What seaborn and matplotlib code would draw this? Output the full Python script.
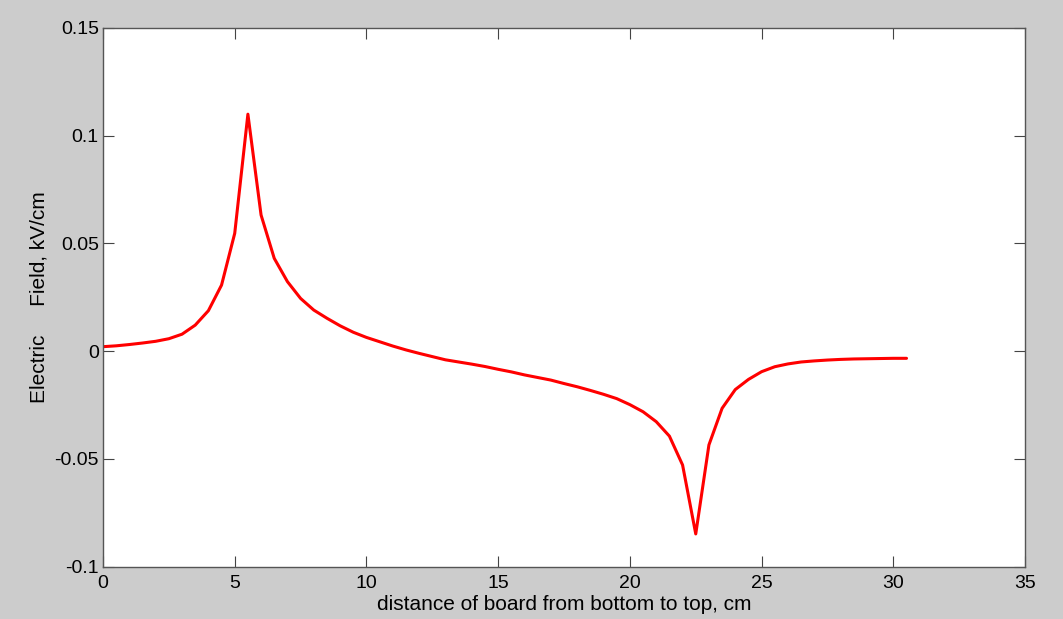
import numpy as np
import pandas as pd
import seaborn as sns
import matplotlib
matplotlib.use('Agg')
import matplotlib.pyplot as plt

# distance (cm), step 0.5
distance = [0.0, 0.5, 1.0, 1.5, 2.0, 2.5, 3.0, 3.5, 4.0, 4.5,
            5.0, 5.5, 6.0, 6.5, 7.0, 7.5, 8.0, 8.5, 9.0, 9.5,
            10.0, 10.5, 11.0, 11.5, 12.0, 12.5, 13.0, 13.5, 14.0, 14.5,
            15.0, 15.5, 16.0, 16.5, 17.0, 17.5, 18.0, 18.5, 19.0, 19.5,
            20.0, 20.5, 21.0, 21.5, 22.0, 22.5, 23.0, 23.5, 24.0, 24.5,
            25.0, 25.5, 26.0, 26.5, 27.0, 27.5, 28.0, 28.5, 29.0, 29.5,
            30.0, 30.5]
# electric field (kV/cm)
field = [0.0021, 0.0025, 0.0031, 0.0038, 0.0046, 0.0058, 0.0079, 0.0121, 0.0188, 0.0307,
         0.0547, 0.1100, 0.0632, 0.0431, 0.0323, 0.0245, 0.0191, 0.0153, 0.0118, 0.0088,
         0.0064, 0.0044, 0.0024, 0.0006, -0.0010, -0.0025, -0.0040, -0.0050, -0.0060, -0.0071,
         -0.0084, -0.0096, -0.0110, -0.0122, -0.0134, -0.0150, -0.0165, -0.0182, -0.0200, -0.0220,
         -0.0248, -0.0281, -0.0327, -0.0394, -0.0528, -0.0848, -0.0435, -0.0265, -0.0178, -0.0131,
         -0.0095, -0.0072, -0.0059, -0.0050, -0.0045, -0.0041, -0.0038, -0.0036, -0.0035, -0.0034,
         -0.0033, -0.0033]

xticks = [0, 5, 10, 15, 20, 25, 30, 35]
yticks = [-0.1, -0.05, 0, 0.05, 0.1, 0.15]
yticklabels = ['-0.1', '-0.05', '0', '0.05', '0.1', '0.15']

df = pd.DataFrame({'distance': distance, 'field': field})

sns.set_style('ticks')
plt.rcParams['font.family'] = ['Liberation Sans', 'DejaVu Sans']

fig = plt.figure(figsize=(10.63, 6.19), dpi=100, facecolor='#cccccc')
ax = fig.add_axes([0.0969, 0.0845, 0.8674, 0.8703])
ax.set_facecolor('white')

sns.lineplot(data=df, x='distance', y='field', color='red', linewidth=2.2, ax=ax)

ax.set_xlim(0, 35)
ax.set_ylim(-0.1, 0.15)
ax.set_xticks(xticks)
ax.set_yticks(yticks)
ax.set_yticklabels(yticklabels)
ax.tick_params(direction='in', length=8, width=0.8, color='#444444',
               top=True, right=True, labelsize=14, labelcolor='black')
ax.tick_params(axis='x', pad=6)
ax.tick_params(axis='y', pad=3)
for s in ax.spines.values():
    s.set_color('#555555')
    s.set_linewidth(1.0)

ax.set_xlabel('distance of board from bottom to top, cm', fontsize=15,
              color='black', labelpad=2)
ax.set_ylabel('Electric     Field, kV/cm', fontsize=15, color='black', labelpad=4)

fig.savefig('out.png', dpi=100, facecolor=fig.get_facecolor())
